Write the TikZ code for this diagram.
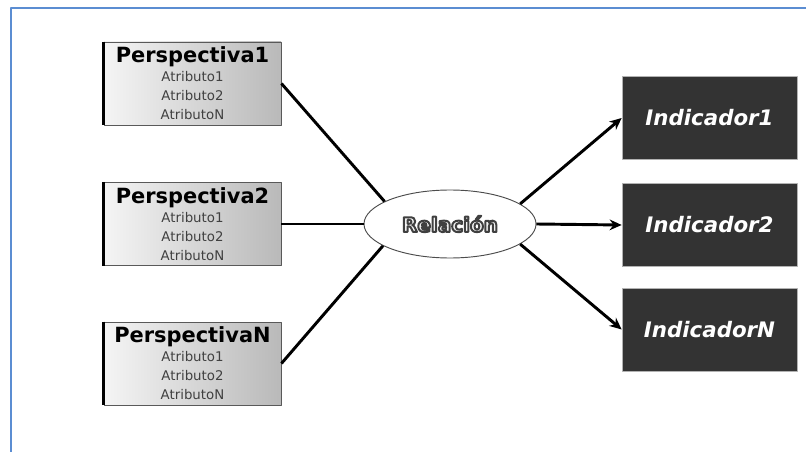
\documentclass[tikz,border=0pt]{standalone}
\usepackage{fontspec}
\setmainfont{DejaVu Sans}
\usetikzlibrary{arrows.meta,shapes.geometric}

\definecolor{marco}{RGB}{91,141,210}
\definecolor{oscuro}{RGB}{51,51,51}

\newcommand{\titulo}[1]{{\fontsize{15.7}{17}\selectfont\bfseries\color{black}#1}}
% texto con contorno (modo de trazo del pdf)
\newcommand{\contorno}[1]{\special{pdf:literal direct 2 Tr 1.5 w 0.25 G}#1\special{pdf:literal direct 0 Tr}}

\begin{document}
\begin{tikzpicture}[x=0.75pt, y=-0.75pt, >={Stealth[length=9pt,width=8pt]}, line join=round,
	persp/.style={rectangle, draw=gray!70!black, line width=0.6pt, left color=gray!8, right color=gray!55,
		minimum width=132.75pt, minimum height=62.25pt, inner sep=0pt, align=center,
		font=\fontsize{10}{14.25}\selectfont, text=black!75},
	indic/.style={rectangle, fill=oscuro, draw=gray!60, line width=0.5pt, minimum width=131.25pt,
		minimum height=62.25pt, text=white, font=\fontsize{16}{18}\selectfont\bfseries\itshape},
	relac/.style={ellipse, draw=gray!60!black, fill=white, line width=0.7pt, minimum width=129pt,
		minimum height=51pt, inner sep=0pt, text=gray!10, font=\fontsize{15}{17}\selectfont\bfseries},
	conector/.style={line width=2.2pt}]
	\useasboundingbox (0,0) rectangle (806,452);
	
	% marco
	\draw[marco, line width=1.5pt] (806,8) -- (11,8) -- (11,452);
	
	% PERSPECTIVAS
	\node[persp] (p1) at (192.5,83.5) {\titulo{Perspectiva1}\\ Atributo1\\ Atributo2\\ AtributoN};
	\node[persp] (p2) at (192.5,224) {\titulo{Perspectiva2}\\ Atributo1\\ Atributo2\\ AtributoN};
	\node[persp] (pN) at (192.5,363.5) {\titulo{PerspectivaN}\\ Atributo1\\ Atributo2\\ AtributoN};
	\foreach \p in {p1,p2,pN}
		\draw[line width=2.2pt] (\p.north west) -- (\p.south west);
	
	% RELACION
	\node[relac] (rel) at (450,224) {\contorno{Relación}};
	
	% INDICADORES
	\node[indic] (ind1) at (709.5,118) {Indicador1};
	\node[indic] (ind2) at (709.5,225) {Indicador2};
	\node[indic] (indN) at (709.5,329.5) {IndicadorN};
	
	% conectores
	\draw[conector] (p1.east) -- (rel.161);
	\draw[conector] (p2.east) -- (rel.west);
	\draw[conector] (pN.east) -- (rel.198);
	\draw[conector, ->] (rel.16) -- (ind1.west);
	\draw[conector, ->] (rel.east) -- (ind2.west);
	\draw[conector, ->] (rel.-16) -- (indN.west);
\end{tikzpicture}
\end{document}
